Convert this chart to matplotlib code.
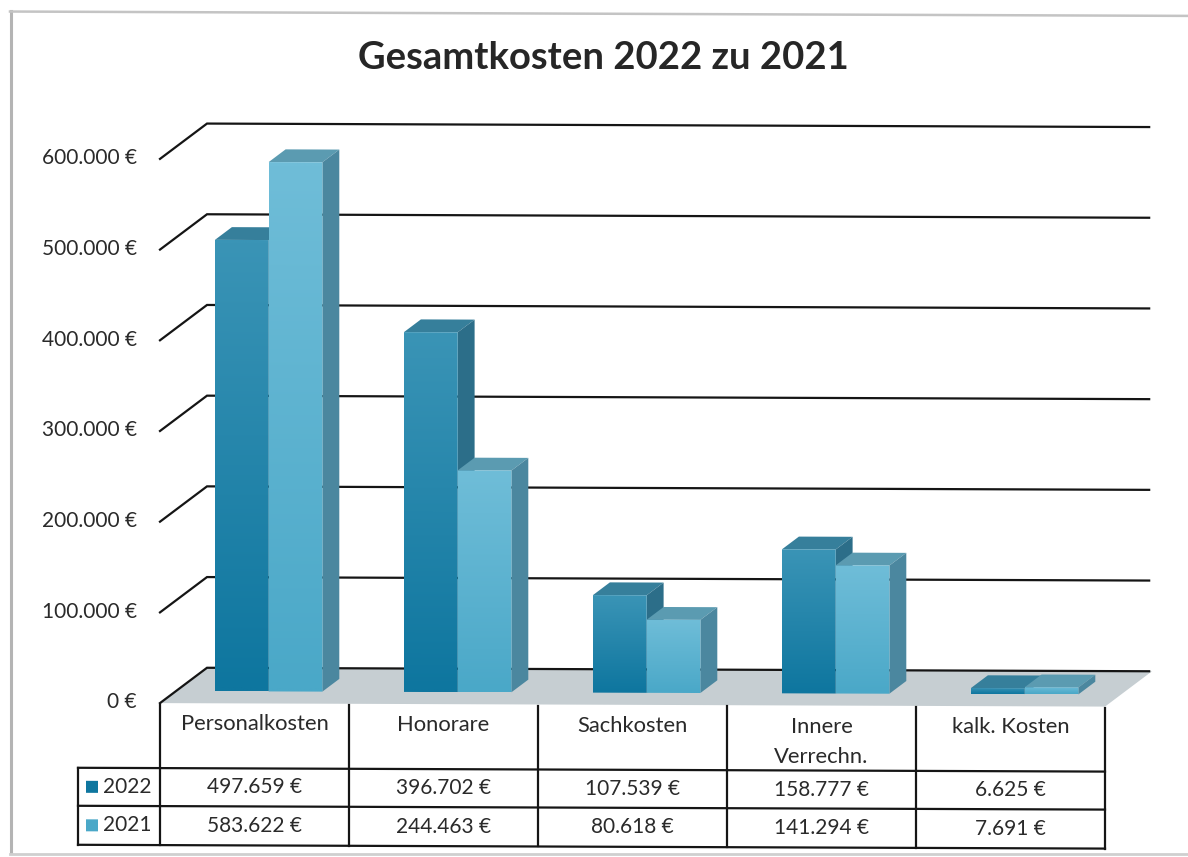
import numpy as np
import matplotlib
matplotlib.use("Agg")
import matplotlib.pyplot as plt
from matplotlib.patches import Polygon
from matplotlib.transforms import Affine2D

plt.rcParams['font.family'] = ['Lato', 'DejaVu Sans']

title = "Gesamtkosten 2022 zu 2021"
categories = ["Personalkosten", "Honorare", "Sachkosten", "Innere\nVerrechn.", "kalk. Kosten"]
series_names = ["2022", "2021"]
values_2022 = [497659, 396702, 107539, 158777, 6625]
values_2021 = [583622, 244463, 80618, 141294, 7691]
y_ticks = [0, 100000, 200000, 300000, 400000, 500000, 600000]

W, H = 1188, 857
# chart geometry, pixels on the page
X0, CAT_W = 160, 189
Y0, PX_PER_EURO = 702.5, 90.7 / 100000
WALL_DX, WALL_DY = 47 / CAT_W, 35.5 / PX_PER_EURO
BAR_D0, BAR_D1 = 0.34, 0.70
BAR_START, BAR_W = 39 / CAT_W, 53.7 / CAT_W
TILT = -0.0037  # the sheet sits slightly crooked

c22 = dict(top="#3a94b6", bottom="#0e769f", lid="#367f9b", side="#2c6e89")
c21 = dict(top="#6fbdd8", bottom="#4aa8c8", lid="#5b9bb1", side="#4b879f")


def euro(v):
    return f"{v:,}".replace(",", ".") + " €"


def vgrad(ax, trans, x0, x1, y0, y1, top, bottom, clip, z):
    col = matplotlib.colors.to_rgb
    t = np.linspace(0, 1, 64)[:, None, None]
    img = (1 - t) * np.array(col(top))[None, None, :] + t * np.array(col(bottom))[None, None, :]
    im = ax.imshow(img, extent=(x0, x1, y0, y1), origin="upper", aspect="auto",
                   transform=trans, zorder=z, interpolation="bilinear")
    im.set_clip_path(clip)


def draw_bar(ax, trans, x, w, v, colors, z):
    dx0, dy0 = BAR_D0 * WALL_DX, BAR_D0 * WALL_DY
    dx1, dy1 = BAR_D1 * WALL_DX, BAR_D1 * WALL_DY
    xa, xb = x + dx0, x + w + dx0
    ya, yb = dy0, v + dy0
    depth_x, depth_y = dx1 - dx0, dy1 - dy0
    lid = Polygon([(xa, yb), (xb, yb), (xb + depth_x, yb + depth_y), (xa + depth_x, yb + depth_y)],
                  fc=colors["lid"], ec="none", transform=trans, zorder=z)
    side = Polygon([(xb, ya), (xb + depth_x, ya + depth_y), (xb + depth_x, yb + depth_y), (xb, yb)],
                   fc=colors["side"], ec="none", transform=trans, zorder=z)
    ax.add_patch(lid)
    ax.add_patch(side)
    face = Polygon([(xa, ya), (xb, ya), (xb, yb), (xa, yb)], fc="none", ec="none",
                   transform=trans, zorder=z)
    ax.add_patch(face)
    vgrad(ax, trans, xa, xb, ya, yb, colors["top"], colors["bottom"], face, z + 0.1)


fig = plt.figure(figsize=(W / 100, H / 100), dpi=100, facecolor="white")

# chart axes: x in categories, y in euro
ax = fig.add_axes([0, 0, 1, 1])
ax.axis("off")
xlim = (-X0 / CAT_W, (W - X0) / CAT_W)
ylim = ((Y0 - H) / PX_PER_EURO, Y0 / PX_PER_EURO)
T = ax.transData + Affine2D().skew(0, TILT)

# page axes: pixels, for the table and the sheet edge
page = fig.add_axes([0, 0, 1, 1])
page.axis("off")
page.patch.set_alpha(0)
page.set_xlim(0, W)
page.set_ylim(H, 0)
P = page.transData + Affine2D().skew(0, TILT)

# floor
n = len(categories)
floor = Polygon([(0, 0), (WALL_DX, WALL_DY), (n + WALL_DX, WALL_DY), (n, 0)],
                fc="#c6ced2", ec="none", transform=T, zorder=1)
ax.add_patch(floor)

# gridlines and value labels
for v in y_ticks:
    ax.plot([0, WALL_DX, n + WALL_DX - 0.015], [v, v + WALL_DY, v + WALL_DY], color="#151515",
            lw=1.6, transform=T, zorder=2, solid_joinstyle="miter")
    ax.text(-23 / CAT_W, v, euro(v), ha="right", va="center",
            fontsize=15, color="#2a2a2a", transform=ax.transData, zorder=5)

# bars
for i in range(n):
    draw_bar(ax, T, i + BAR_START, BAR_W, values_2022[i], c22, 3 + i)
    draw_bar(ax, T, i + BAR_START + BAR_W, BAR_W, values_2021[i], c21, 3.3 + i)

ax.set_xlim(xlim)
ax.set_ylim(ylim)

# title
page.text(603.5, 58, title, ha="center", va="center", fontsize=27.5, fontweight="bold", color="#262626")

# data table
col_x = [X0 + CAT_W * i for i in range(n + 1)]
key_x = 78
row_y = [767.5, 805.5, 844.5]
head_y = 703
line = dict(color="#151515", lw=1.6, transform=P, zorder=6, solid_capstyle="projecting")
for x in col_x:
    page.plot([x, x], [head_y + 0.7, row_y[-1]], **line)
for y in row_y:
    page.plot([key_x, col_x[-1]], [y, y], **line)
page.plot([key_x, key_x], [row_y[0], row_y[-1]], **line)

for i, cat in enumerate(categories):
    page.text(col_x[i] + CAT_W / 2, 713.5, cat, ha="center", va="top", fontsize=15.8,
              color="#2a2a2a", linespacing=1.66, transform=P, zorder=7)
    for r, vals in enumerate([values_2022, values_2021]):
        page.text(col_x[i] + CAT_W / 2, (row_y[r] + row_y[r + 1]) / 2, euro(vals[i]), ha="center",
                  va="center", fontsize=15, color="#2a2a2a", transform=P, zorder=7)

for r, name in enumerate(series_names):
    ym = (row_y[r] + row_y[r + 1]) / 2
    colors = [c22, c21][r]
    page.add_patch(Polygon([(86, ym - 6), (98, ym - 6), (98, ym + 6), (86, ym + 6)],
                           fc=colors["bottom"], ec="none", transform=P, zorder=7))
    page.text(127, ym, name, ha="center", va="center", fontsize=15, color="#2a2a2a",
              transform=P, zorder=7)

# edge of the sheet
page.plot([11, 11], [11, 852], color="#b4b4b4", lw=2.2, zorder=8)
page.plot([10, W], [11.5, 11.5], color="#c4c4c4", lw=1.8, transform=P, zorder=8)
page.plot([10, W], [853.5, 853.5], color="#cfcfcf", lw=2, zorder=8)

plt.savefig("out.png", dpi=100)
